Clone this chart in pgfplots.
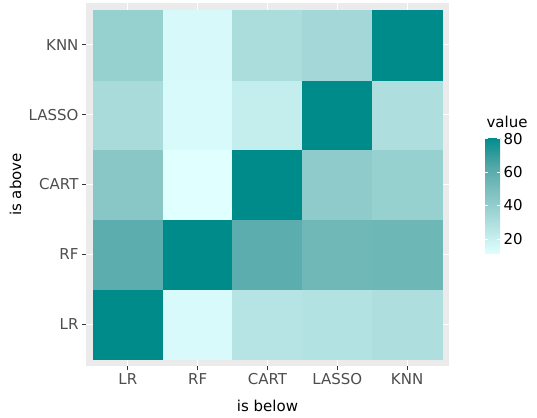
\documentclass[border=0pt]{standalone}
\usepackage{fontspec}
\setmainfont{DejaVu Sans}
\usepackage{pgfplots}
\pgfplotsset{compat=1.18}
\definecolor{panelbg}{HTML}{EBEBEB}
\definecolor{ticklab}{HTML}{4D4D4D}
\definecolor{tickcol}{HTML}{333333}
\begin{document}
\begin{tikzpicture}
\useasboundingbox (-86pt,-51pt) rectangle (451pt,366pt);
\begin{axis}[
  scale only axis, width=363pt, height=363pt,
  xmin=-0.6, xmax=4.6, ymin=-0.6, ymax=4.6,
  xtick={0,1,2,3,4}, ytick={0,1,2,3,4},
  xticklabels={LR,RF,CART,LASSO,KNN},
  yticklabels={LR,RF,CART,LASSO,KNN},
  axis line style={draw=none},
  axis background/.style={fill=panelbg},
  grid=major, major grid style={white, line width=1.1pt},
  tick align=outside, tick pos=left, major tick length=4pt,
  tick style={tickcol, line width=0.8pt},
  ticklabel style={font=\fontsize{15}{18}\selectfont, text=ticklab},
  xlabel={is below}, ylabel={is above},
  label style={font=\fontsize{15}{18}\selectfont},
  xlabel style={at={(axis description cs:0.5,-0.1267)}, anchor=base},
  ylabel style={at={(axis description cs:-0.179,0.5)}, anchor=base},
  colormap={ggteal}{rgb255=(224,255,255) rgb255=(178,225,225) rgb255=(132,196,195) rgb255=(82,167,167) rgb255=(0,139,139)},
  point meta min=11, point meta max=81,
  colorbar,
  colorbar/width=15pt,
  colorbar shift/.style={},
  colorbar style={
    at={(parent axis.south east)}, anchor=south west,
    xshift=36pt, yshift=112pt,
    scale only axis, width=15pt, height=117pt,
    ytick={20,40,60,80},
    axis line style={draw=none},
    tick align=inside, ytick pos=both, yticklabel pos=right,
    major tick length=3pt, ytick style={white, line width=0.6pt},
    yticklabel style={font=\fontsize{15}{18}\selectfont, text=black},
    /pgf/number format/assume math mode=true,
  },
]
\addplot[matrix plot*, mesh/cols=5, point meta=explicit, shader=flat corner] table[meta=c] {
x y c
0 0 81
1 0 14
2 0 27
3 0 28
4 0 30
0 1 60
1 1 81
2 1 60
3 1 53
4 1 54
0 2 44
1 2 11
2 2 81
3 2 42
4 2 39
0 3 32
1 3 14
2 3 21.5
3 3 81
4 3 30
0 4 39
1 4 14.5
2 4 31
3 4 34
4 4 81
};
\end{axis}
\node[anchor=base west, font=\fontsize{15}{18}\selectfont] at (397pt,238.5pt) {value};
\end{tikzpicture}
\end{document}
